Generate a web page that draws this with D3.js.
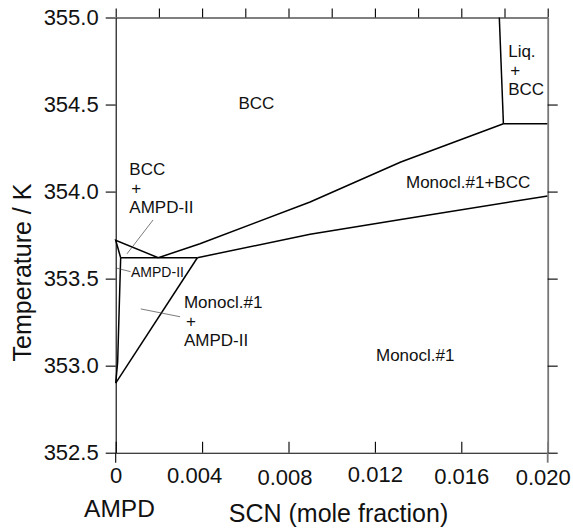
<!DOCTYPE html>
<html>
<head>
<meta charset="utf-8">
<script src="https://cdn.jsdelivr.net/npm/d3@7"></script>
<style>
  html, body { margin: 0; padding: 0; background: #fff; }
  svg { display: block; }
  text { font-family: "Liberation Sans", Arial, Helvetica, sans-serif; fill: #111; }
</style>
</head>
<body>
<svg id="chart" width="573" height="528"></svg>
<script>
// ---- data (SCN mole fraction, temperature / K) ----
const xDomain = [0, 0.020];
const yDomain = [352.5, 355.0];
const xTickLabels = [0, 0.004, 0.008, 0.012, 0.016, 0.020];
const xTickLabelText = ["0", "0.004", "0.008", "0.012", "0.016", "0.020"];
const xMinorTicks = [0, 0.002, 0.004, 0.006, 0.008, 0.010, 0.012, 0.014, 0.016, 0.018, 0.020];
const yTicks = [352.5, 353.0, 353.5, 354.0, 354.5, 355.0];
const yRightTicks = [352.5, 353.0, 353.5, 354.0, 354.5];

// phase boundaries
const liqBccLeft     = [[0.01776, 355.0], [0.01795, 354.39]];
const liqBccBottom   = [[0.01795, 354.39], [0.020, 354.39]];
const bccUpper       = [[0.00197, 353.62], [0.0039, 353.70], [0.0090, 353.94], [0.0132, 354.17], [0.01795, 354.39]];
const monoclBccLower = [[0.00378, 353.62], [0.0090, 353.755], [0.0132, 353.84], [0.020, 353.975]];
const eutectoidLine  = [[0.00023, 353.62], [0.00378, 353.62]];
const bccAmpdTriangle= [[0.00197, 353.62], [0, 353.72], [0.00023, 353.62]];
const ampdSolvus     = [[0.00023, 353.62], [0.00009, 353.02], [0, 352.90]];
const monoclAmpdLine = [[0.00378, 353.62], [0, 352.90]];
const boundaries = [liqBccLeft, liqBccBottom, bccUpper, monoclBccLower, eutectoidLine, bccAmpdTriangle, ampdSolvus, monoclAmpdLine];

// leader lines
const leaderBccAmpd    = [[0.00173, 353.837], [0.00052, 353.642]];
const leaderAmpd       = [[0.00005, 353.56], [0.00069, 353.540]];
const leaderMonoclAmpd = [[0.00116, 353.326], [0.00298, 353.281]];
const leaders = [leaderBccAmpd, leaderAmpd, leaderMonoclAmpd];

// region labels: [x, T, lines]
const regionLabels = [
  [0.00568, 354.473, ["BCC"]],
  [0.00063, 354.095, ["BCC", "+", "AMPD-II"]],
  [0.01817, 354.775, ["Liq.", "+", "BCC"]],
  [0.01344, 354.019, ["Monocl.#1+BCC"]],
  [0.01205, 353.029, ["Monocl.#1"]],
  [0.00316, 353.330, ["Monocl.#1", "+", "AMPD-II"]]
];
const smallLabels = [[0.00071, 353.508, "AMPD-II"]];

// ---- layout / style ----
const xLabelNudgeX = [0, -8, -4, 0, 0, -5];
const xLabelNudgeY = [0, 0, 2, -1, 1, 2];

const svg = d3.select("#chart");
const mLeft = 115.7, mRight = 547.7, mTop = 17.5, mBottom = 452.7;
const x = d3.scaleLinear().domain(xDomain).range([mLeft, mRight]);
const y = d3.scaleLinear().domain(yDomain).range([mBottom, mTop]);

const line = d3.line().x(d => x(d[0])).y(d => y(d[1]));

// boundaries
svg.append("g").selectAll("path").data(boundaries).join("path")
  .attr("d", line).attr("fill", "none").attr("stroke", "#000")
  .attr("stroke-width", 1.5).attr("stroke-linejoin", "miter");

// leaders
svg.append("g").selectAll("path").data(leaders).join("path")
  .attr("d", line).attr("fill", "none").attr("stroke", "#444")
  .attr("stroke-width", 0.7);

// axes
const fmt = d => d.toFixed(1);
const gLeft = svg.append("g").attr("transform", `translate(${mLeft},0)`)
  .call(d3.axisLeft(y).tickValues(yTicks).tickFormat(fmt).tickSize(10).tickSizeOuter(0).tickPadding(7));
gLeft.selectAll("text").attr("font-size", 22).attr("font-family", '"Liberation Sans", Arial, sans-serif').attr("fill", "#111");

const gBottom = svg.append("g").attr("transform", `translate(0,${mBottom})`)
  .call(d3.axisBottom(x).tickValues(xTickLabels).tickFormat((d, i) => xTickLabelText[i])
        .tickSizeInner(-11).tickSizeOuter(0).tickPadding(15));
gBottom.selectAll("text").attr("font-size", 22).attr("font-family", '"Liberation Sans", Arial, sans-serif').attr("fill", "#111")
  .attr("dx", (d, i) => xLabelNudgeX[i]).attr("y", (d, i) => 15 + xLabelNudgeY[i]);

const gTop = svg.append("g").attr("transform", `translate(0,${mTop})`)
  .call(d3.axisTop(x).tickValues(xMinorTicks).tickFormat("").tickSize(9).tickSizeOuter(0));

const gRight = svg.append("g").attr("transform", `translate(${mRight},0)`)
  .call(d3.axisRight(y).tickValues(yRightTicks).tickFormat("").tickSize(10).tickSizeOuter(0));
gRight.select(".domain").attr("stroke", "#777").attr("stroke-width", 1.8);

[gLeft, gBottom, gTop].forEach(g => g.selectAll("line, .domain").attr("stroke", "#000").attr("stroke-width", 1.1));
gRight.selectAll(".tick line").attr("stroke", "#000").attr("stroke-width", 1.1);

// end extensions below the bottom axis
svg.append("g").selectAll("line").data([xDomain[0], xDomain[1]]).join("line")
  .attr("x1", d => x(d)).attr("x2", d => x(d))
  .attr("y1", y(yDomain[0])).attr("y2", y(yDomain[0]) + 10)
  .attr("stroke", (d, i) => i ? "#777" : "#000").attr("stroke-width", (d, i) => i ? 1.8 : 1.1);

// axis titles
svg.append("text").attr("transform", `translate(31,272.5) rotate(-90)`)
  .attr("text-anchor", "middle").attr("font-size", 25).text("Temperature / K");
svg.append("text").attr("x", 338.5).attr("y", 521.5)
  .attr("text-anchor", "middle").attr("font-size", 25).text("SCN (mole fraction)");
svg.append("text").attr("x", 119.5).attr("y", 517)
  .attr("text-anchor", "middle").attr("font-size", 24.5).text("AMPD");

// region labels
const lg = svg.append("g");
regionLabels.forEach(([lx, lt, lines]) => {
  const t = lg.append("text").attr("x", x(lx)).attr("y", y(lt)).attr("font-size", 17);
  lines.forEach((s, i) => {
    t.append("tspan").attr("x", x(lx) + (s === "+" ? 2 : 0))
      .attr("dy", i === 0 ? 0 : 19).text(s);
  });
});
smallLabels.forEach(([lx, lt, s]) => {
  lg.append("text").attr("x", x(lx)).attr("y", y(lt)).attr("font-size", 14).text(s);
});
</script>
</body>
</html>
